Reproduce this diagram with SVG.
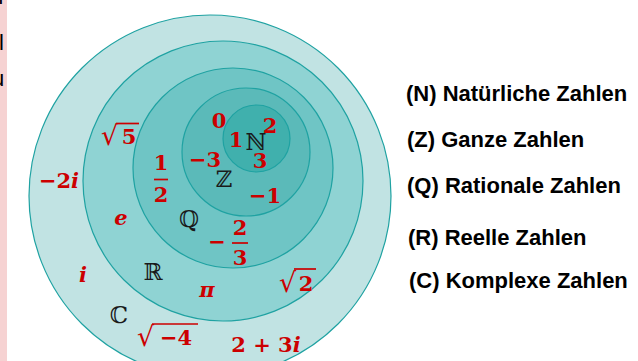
<svg xmlns="http://www.w3.org/2000/svg" width="638" height="361" viewBox="0 0 638 361">
<defs>
<style>
.ring{stroke:#1fa2a2;stroke-width:1.2}
.m{font-family:"DejaVu Serif","Liberation Serif",serif;font-weight:bold;font-size:21px;fill:#cc0000;text-anchor:middle}
.it{font-style:italic}
.rad{font-family:"DejaVu Serif","Liberation Serif",serif;font-size:27px;fill:#cc0000;text-anchor:start}
.bb{font-family:"DejaVu Serif","DejaVu Sans",serif;font-size:23px;fill:#1a1a1a;text-anchor:middle}
.bar{stroke:#cc0000;stroke-width:1.7}
.lbl{font-family:"Liberation Sans",Arial,sans-serif;font-weight:bold;font-size:22px;fill:#000}
.frag{font-family:"Liberation Sans",Arial,sans-serif;font-size:22px;fill:#000}
</style>
<clipPath id="stripclip"><rect x="0" y="0" width="7" height="361"/></clipPath>
</defs>
<rect x="0" y="0" width="638" height="361" fill="#ffffff"/>
<g id="strip">
<rect x="0" y="0" width="7" height="361" fill="#f6d2d2"/>
<g clip-path="url(#stripclip)">
<text class="frag" x="-9" y="4">n</text>
<text class="frag" x="-1" y="50">l</text>
<text class="frag" x="-8" y="86">u</text>
</g>
</g>
<g id="set-C">
<circle class="ring" cx="210" cy="196" r="181" fill="#c1e3e3"/>
<text class="bb" x="119" y="323">ℂ</text>
<text class="m" x="59" y="188">−2<tspan class="it">i</tspan></text>
<text class="m it" x="83" y="282">i</text>
<text class="rad" x="137" y="346">√</text>
<line class="bar" x1="152" y1="324" x2="198" y2="324"/>
<text class="m" x="176" y="345">−4</text>
<text class="m" x="266" y="352">2 + 3<tspan class="it">i</tspan></text>
</g>
<g id="set-R">
<circle class="ring" cx="223" cy="181" r="140" fill="#8fd3d3"/>
<text class="bb" x="153" y="280">ℝ</text>
<text class="rad" x="101" y="145">√</text>
<line class="bar" x1="116" y1="123.5" x2="139" y2="123.5"/>
<text class="m" x="129" y="144">5</text>
<text class="m it" x="121" y="225">e</text>
<text class="m it" x="207" y="297">π</text>
<text class="rad" x="279" y="292">√</text>
<line class="bar" x1="294" y1="269" x2="316" y2="269"/>
<text class="m" x="306" y="291">2</text>
</g>
<g id="set-Q">
<circle class="ring" cx="233" cy="168" r="100" fill="#6fc5c5"/>
<text class="bb" x="189" y="227">ℚ</text>
<text class="m" x="161" y="170">1</text>
<line class="bar" x1="154" y1="179.5" x2="168" y2="179.5"/>
<text class="m" x="161" y="202">2</text>
<text class="m" x="217" y="249">−</text>
<text class="m" x="240" y="235">2</text>
<line class="bar" x1="232" y1="243" x2="248" y2="243"/>
<text class="m" x="240" y="265">3</text>
</g>
<g id="set-Z">
<circle class="ring" cx="246" cy="152" r="64" fill="#5bbab9"/>
<text class="bb" x="224" y="187">ℤ</text>
<text class="m" x="205" y="167">−3</text>
<text class="m" x="265" y="203">−1</text>
<text class="m" x="219" y="128">0</text>
</g>
<g id="set-N">
<circle class="ring" cx="256.5" cy="138.5" r="33.5" fill="#40b0ad"/>
<text class="bb" x="256" y="150">ℕ</text>
<text class="m" x="236" y="147">1</text>
<text class="m" x="270" y="133">2</text>
<text class="m" x="260" y="168">3</text>
</g>
<g id="legend">
<text class="lbl" x="406" y="101">(N) Natürliche Zahlen</text>
<text class="lbl" x="407" y="147">(Z) Ganze Zahlen</text>
<text class="lbl" x="407" y="193">(Q) Rationale Zahlen</text>
<text class="lbl" x="408" y="245">(R) Reelle Zahlen</text>
<text class="lbl" x="409" y="288">(C) Komplexe Zahlen</text>
</g>
<g id="connectors"></g>
</svg>
